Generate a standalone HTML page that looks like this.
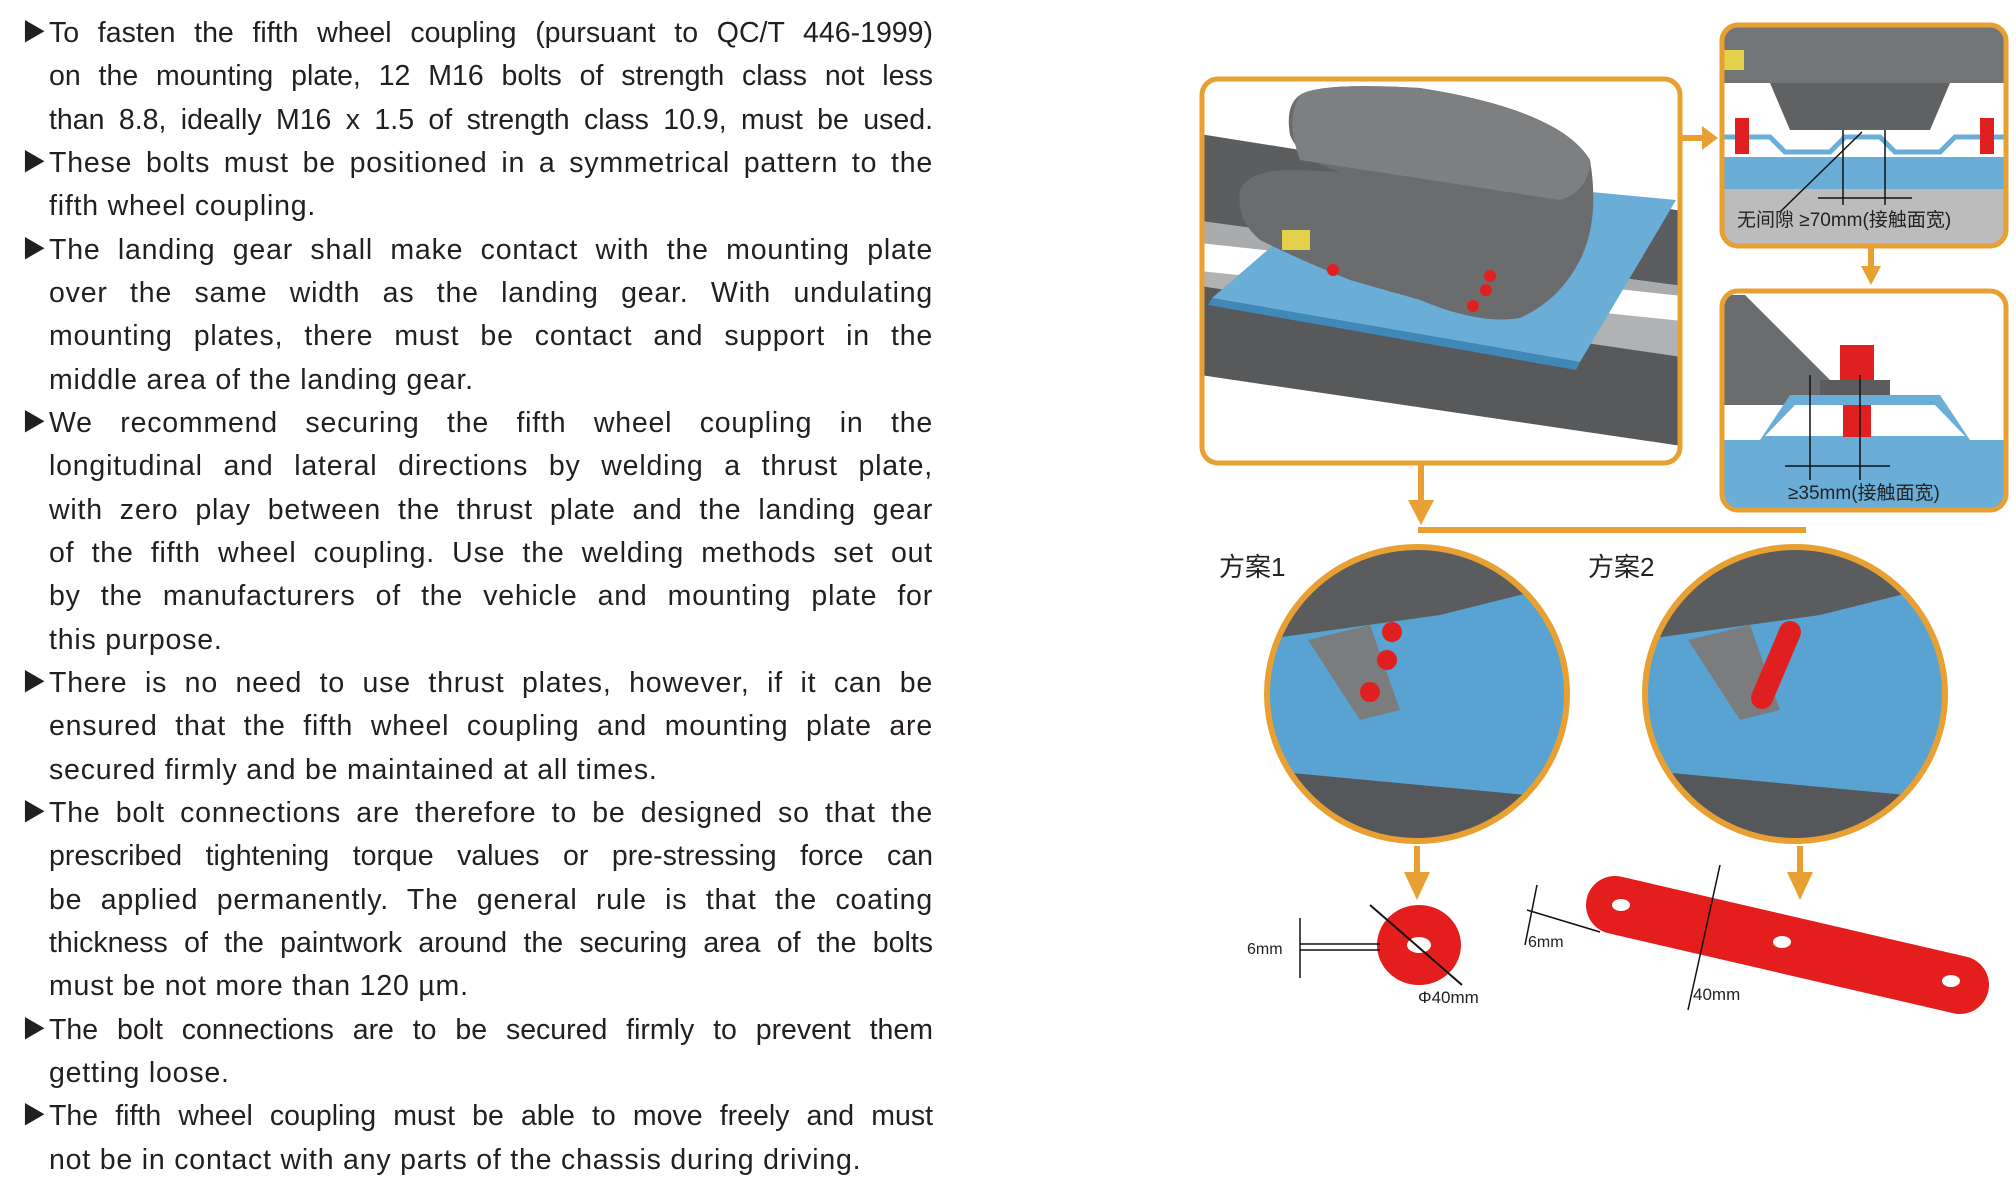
<!DOCTYPE html>
<html><head><meta charset="utf-8"><style>
html,body{margin:0;padding:0;background:#fff}
body{width:2016px;height:1182px;position:relative;overflow:hidden;font-family:"Liberation Sans","Noto Sans CJK SC",sans-serif;color:#231f20}
.l{position:absolute;left:49px;width:884px;font-size:28.5px;letter-spacing:0.8px;line-height:36px;height:36px;white-space:nowrap}
.j{text-align:justify;text-align-last:justify;white-space:normal}
.t{letter-spacing:0}
.b{position:absolute;left:22px;font-size:24px;line-height:36px}
svg{position:absolute;left:0;top:0}
</style></head><body>
<div class="b" style="top:15px">▶</div>
<div class="l j t" style="top:15px">To fasten the fifth wheel coupling (pursuant to QC/T 446-1999)</div>
<div class="l j t" style="top:58px">on the mounting plate, 12 M16 bolts of strength class not less</div>
<div class="l j t" style="top:102px">than 8.8, ideally M16 x 1.5 of strength class 10.9, must be used.</div>
<div class="b" style="top:145px">▶</div>
<div class="l j" style="top:145px">These bolts must be positioned in a symmetrical pattern to the</div>
<div class="l" style="top:188px">fifth wheel coupling.</div>
<div class="b" style="top:232px">▶</div>
<div class="l j" style="top:232px">The landing gear shall make contact with the mounting plate</div>
<div class="l j" style="top:275px">over the same width as the landing gear. With undulating</div>
<div class="l j" style="top:318px">mounting plates, there must be contact and support in the</div>
<div class="l" style="top:362px">middle area of the landing gear.</div>
<div class="b" style="top:405px">▶</div>
<div class="l j" style="top:405px">We recommend securing the fifth wheel coupling in the</div>
<div class="l j" style="top:448px">longitudinal and lateral directions by welding a thrust plate,</div>
<div class="l j" style="top:492px">with zero play between the thrust plate and the landing gear</div>
<div class="l j" style="top:535px">of the fifth wheel coupling. Use the welding methods set out</div>
<div class="l j" style="top:578px">by the manufacturers of the vehicle and mounting plate for</div>
<div class="l" style="top:622px">this purpose.</div>
<div class="b" style="top:665px">▶</div>
<div class="l j" style="top:665px">There is no need to use thrust plates, however, if it can be</div>
<div class="l j" style="top:708px">ensured that the fifth wheel coupling and mounting plate are</div>
<div class="l" style="top:752px">secured firmly and be maintained at all times.</div>
<div class="b" style="top:795px">▶</div>
<div class="l j" style="top:795px">The bolt connections are therefore to be designed so that the</div>
<div class="l j t" style="top:838px">prescribed tightening torque values or pre-stressing force can</div>
<div class="l j" style="top:882px">be applied permanently. The general rule is that the coating</div>
<div class="l j t" style="top:925px">thickness of the paintwork around the securing area of the bolts</div>
<div class="l" style="top:968px">must be not more than 120 µm.</div>
<div class="b" style="top:1012px">▶</div>
<div class="l j t" style="top:1012px">The bolt connections are to be secured firmly to prevent them</div>
<div class="l" style="top:1055px">getting loose.</div>
<div class="b" style="top:1098px">▶</div>
<div class="l j t" style="top:1098px">The fifth wheel coupling must be able to move freely and must</div>
<div class="l" style="top:1142px">not be in contact with any parts of the chassis during driving.</div>

<svg width="2016" height="1182" viewBox="0 0 2016 1182" font-family="Liberation Sans, Noto Sans CJK SC, sans-serif">
<defs>
<clipPath id="cm"><rect x="1202" y="79" width="478" height="384" rx="16"/></clipPath>
<clipPath id="ct"><rect x="1722" y="25" width="284" height="221" rx="16"/></clipPath>
<clipPath id="cb"><rect x="1722" y="291" width="284" height="219" rx="16"/></clipPath>
<clipPath id="c1"><ellipse cx="1417" cy="694" rx="150" ry="147"/></clipPath>
<clipPath id="c2"><ellipse cx="1795" cy="694" rx="150" ry="147"/></clipPath>
</defs>
<g clip-path="url(#cm)">
<rect x="1200" y="77" width="482" height="388" fill="#fff"/>
<polygon points="1200,134 1682,211 1682,286 1200,221" fill="#5b5d5f"/>
<polygon points="1200,221 1682,286 1682,296 1200,243" fill="#a9abad"/>
<polygon points="1200,271 1682,321 1682,357 1200,286" fill="#b0b2b4"/>
<polygon points="1200,286 1682,357 1682,446 1200,375" fill="#57595b"/>
<polygon points="1212,298 1360,170 1676,200 1580,362" fill="#6aaed8"/>
<polygon points="1212,298 1580,362 1576,370 1208,305" fill="#3f88b8"/>
<path d="M1300,95 Q1320,82 1420,88 Q1560,110 1590,160 Q1600,220 1580,260 Q1560,300 1520,318 Q1480,325 1420,300 L1350,280 Q1300,260 1260,240 Q1236,220 1240,190 Q1250,168 1300,170 L1340,172 Q1300,160 1290,135 Q1285,105 1300,95Z" fill="#6a6c6e"/>
<path d="M1300,95 Q1320,82 1420,88 Q1560,110 1590,160 Q1590,190 1560,200 L1300,160 Q1285,120 1300,95Z" fill="#7d7f81"/>
<rect x="1282" y="230" width="28" height="20" fill="#e4d04a"/>
<circle cx="1333" cy="270" r="6" fill="#e02020"/><circle cx="1490" cy="276" r="6" fill="#e02020"/><circle cx="1486" cy="290" r="6" fill="#e02020"/><circle cx="1473" cy="306" r="6" fill="#e02020"/>
</g>
<rect x="1202" y="79" width="478" height="384" rx="16" fill="none" stroke="#e8a032" stroke-width="5"/>
<g clip-path="url(#ct)">
<rect x="1720" y="23" width="288" height="225" fill="#fff"/>
<rect x="1720" y="23" width="288" height="60" fill="#727476"/>
<polygon points="1770,83 1950,83 1930,130 1790,130" fill="#5f6163"/>
<rect x="1722" y="50" width="22" height="20" fill="#e4d04a"/>
<rect x="1720" y="132" width="288" height="25" fill="#fff"/>
<polyline points="1720,137 1770,137 1785,152 1830,152 1845,137 1880,137 1895,152 1940,152 1955,137 2008,137" fill="none" stroke="#6aaed8" stroke-width="5"/>
<rect x="1720" y="157" width="288" height="32" fill="#6aaed8"/>
<rect x="1720" y="189" width="288" height="59" fill="#bcbcbc"/>
<rect x="1735" y="118" width="14" height="36" fill="#e02020"/><rect x="1980" y="118" width="14" height="36" fill="#e02020"/>
<line x1="1780" y1="212" x2="1862" y2="132" stroke="#111" stroke-width="1.5"/>
<line x1="1843" y1="130" x2="1843" y2="205" stroke="#111" stroke-width="1.5"/>
<line x1="1885" y1="130" x2="1885" y2="205" stroke="#111" stroke-width="1.5"/>
<line x1="1818" y1="198" x2="1912" y2="198" stroke="#111" stroke-width="1.5"/>
<text x="1737" y="226" font-size="19" fill="#222">无间隙  ≥70mm(接触面宽)</text>
</g>
<rect x="1722" y="25" width="284" height="221" rx="16" fill="none" stroke="#e8a032" stroke-width="5"/>
<g clip-path="url(#cb)">
<rect x="1720" y="289" width="288" height="225" fill="#fff"/>
<polygon points="1720,295 1745,295 1830,380 1890,380 1890,405 1720,405" fill="#6a6c6e"/>
<rect x="1820" y="380" width="70" height="25" fill="#5a5c5e"/>
<path d="M1720,440 L1760,440 L1790,395 L1940,395 L1970,440 L2008,440 L2008,514 L1720,514Z" fill="#6aaed8"/>
<path d="M1765,436 L1795,405 L1935,405 L1965,436Z" fill="#fff"/>
<rect x="1840" y="345" width="34" height="35" fill="#e02020"/>
<rect x="1843" y="405" width="28" height="32" fill="#e02020"/>
<line x1="1810" y1="375" x2="1810" y2="480" stroke="#111" stroke-width="1.5"/>
<line x1="1860" y1="375" x2="1860" y2="480" stroke="#111" stroke-width="1.5"/>
<line x1="1785" y1="466" x2="1890" y2="466" stroke="#111" stroke-width="1.5"/>
<text x="1788" y="499" font-size="19" fill="#222">≥35mm(接触面宽)</text>
</g>
<rect x="1722" y="291" width="284" height="219" rx="16" fill="none" stroke="#e8a032" stroke-width="5"/>
<g fill="#e8a032" stroke="none">
<rect x="1682" y="135" width="22" height="6"/><polygon points="1702,126 1718,138 1702,150"/>
<rect x="1868" y="248" width="6" height="20"/><polygon points="1861,266 1881,266 1871,285"/>
<rect x="1418" y="465" width="6" height="38"/><polygon points="1408,500 1434,500 1421,525"/>
<rect x="1418" y="527" width="388" height="6"/>
<rect x="1414" y="846" width="6" height="30"/><polygon points="1404,872 1430,872 1417,900"/>
<rect x="1797" y="846" width="6" height="30"/><polygon points="1787,872 1813,872 1800,900"/>
</g>
<text x="1219" y="576" font-size="26" fill="#222">方案1</text>
<text x="1588" y="576" font-size="26" fill="#222">方案2</text>
<g clip-path="url(#c1)">
<rect x="1260" y="540" width="320" height="310" fill="#58a3d2"/>
<path d="M1260,540 L1580,540 L1580,580 Q1500,600 1440,615 L1260,640Z" fill="#5a5c5e"/>
<polygon points="1260,770 1580,800 1580,850 1260,850" fill="#55575a"/>
<polygon points="1308,640 1370,625 1400,710 1360,720" fill="#7a7c7e"/>
<circle cx="1392" cy="632" r="10" fill="#e02020"/><circle cx="1387" cy="660" r="10" fill="#e02020"/><circle cx="1370" cy="692" r="10" fill="#e02020"/>
</g>
<ellipse cx="1417" cy="694" rx="150" ry="147" fill="none" stroke="#e8a032" stroke-width="6"/>
<g clip-path="url(#c2)">
<rect x="1640" y="540" width="320" height="310" fill="#58a3d2"/>
<path d="M1640,540 L1960,540 L1960,580 Q1880,600 1820,615 L1640,640Z" fill="#5a5c5e"/>
<polygon points="1640,770 1960,800 1960,850 1640,850" fill="#55575a"/>
<polygon points="1688,640 1750,625 1780,710 1740,720" fill="#7a7c7e"/>
<line x1="1790" y1="632" x2="1762" y2="698" stroke="#e02020" stroke-width="22" stroke-linecap="round"/>
</g>
<ellipse cx="1795" cy="694" rx="150" ry="147" fill="none" stroke="#e8a032" stroke-width="6"/>
<ellipse cx="1419" cy="945" rx="42" ry="40" fill="#e41d1d"/>
<ellipse cx="1419" cy="945" rx="12" ry="8" fill="#fff"/>
<line x1="1370" y1="905" x2="1462" y2="985" stroke="#111" stroke-width="2"/>
<line x1="1300" y1="918" x2="1300" y2="978" stroke="#111" stroke-width="1.5"/>
<line x1="1300" y1="944" x2="1380" y2="944" stroke="#111" stroke-width="1.5"/>
<line x1="1300" y1="950" x2="1380" y2="950" stroke="#111" stroke-width="1.5"/>
<text x="1247" y="954" font-size="16" fill="#222">6mm</text>
<text x="1418" y="1003" font-size="17" fill="#222">Φ40mm</text>
<line x1="1615" y1="905" x2="1960" y2="985" stroke="#e41d1d" stroke-width="58" stroke-linecap="round"/>
<ellipse cx="1621" cy="905" rx="9" ry="6" fill="#fff"/>
<ellipse cx="1782" cy="942" rx="9" ry="6" fill="#fff"/>
<ellipse cx="1951" cy="981" rx="9" ry="6" fill="#fff"/>
<line x1="1720" y1="865" x2="1688" y2="1010" stroke="#111" stroke-width="1.5"/>
<line x1="1537" y1="885" x2="1525" y2="945" stroke="#111" stroke-width="1.5"/>
<line x1="1527" y1="910" x2="1600" y2="932" stroke="#111" stroke-width="1.5"/>
<text x="1528" y="947" font-size="16" fill="#222">6mm</text>
<text x="1693" y="1000" font-size="17" fill="#222">40mm</text>
</svg>
</body></html>
